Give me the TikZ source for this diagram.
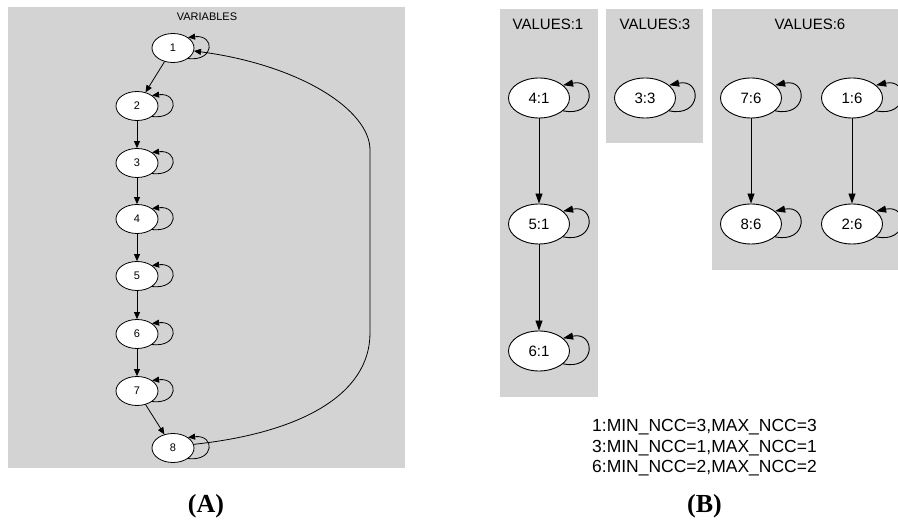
\documentclass[tikz,border=0pt]{standalone}
\usepackage{fontspec}
\setmainfont{Liberation Sans}
\newfontfamily\capfont{Liberation Serif}
\usetikzlibrary{arrows.meta,shapes.geometric}
\definecolor{boxgray}{HTML}{D3D3D3}
\tikzset{
  panel/.style={fill=boxgray,draw=none},
  anode/.style={ellipse,draw=black,fill=white,line width=0.8pt,minimum width=42pt,minimum height=29pt,inner sep=0pt,font=\fontsize{11pt}{13pt}\selectfont},
  bnode/.style={ellipse,draw=black,fill=white,line width=0.9pt,minimum width=61pt,minimum height=40pt,inner sep=0pt,font=\fontsize{15pt}{17pt}\selectfont},
  aedge/.style={draw=black,line width=0.8pt,-{Triangle[length=7pt,width=6pt]}},
  bedge/.style={draw=black,line width=0.9pt,-{Triangle[length=10pt,width=7pt]}},
  atitle/.style={font=\fontsize{11pt}{13pt}\selectfont,inner sep=0pt},
  btitle/.style={font=\fontsize{15pt}{17pt}\selectfont,inner sep=0pt},
  info/.style={font=\fontsize{17.5pt}{20pt}\selectfont,inner sep=0pt,anchor=base},
  caption/.style={font=\capfont\bfseries\fontsize{26pt}{28pt}\selectfont,inner sep=0pt}
}
\newcommand\aselfloop[1]{\draw[aedge] (#1.-35) .. controls +(27,3) and +(27,-3) .. (#1.35);}
\newcommand\bselfloop[1]{\draw[bedge] (#1.-28) .. controls +(33,7) and +(33,-7) .. (#1.28);}
\begin{document}
\begin{tikzpicture}[x=1pt,y=-1pt]
\useasboundingbox (0,0) rectangle (898,521);
\clip (0,0) rectangle (898,521);
% panel A
\fill[panel] (8,7) rectangle (405,468);
\node[atitle] (vt) at (207,17) {VARIABLES};
\node[anode] (a1) at (173,48) {1};
\node[anode] (a2) at (137,106) {2};
\node[anode] (a3) at (137,163) {3};
\node[anode] (a4) at (137,219) {4};
\node[anode] (a5) at (137,276) {5};
\node[anode] (a6) at (137,334) {6};
\node[anode] (a7) at (137,391) {7};
\node[anode] (a8) at (173,448) {8};
\foreach \n in {a1,a2,a3,a4,a5,a6,a7,a8}{\aselfloop{\n}}
\draw[aedge] (a1) -- (a2);
\draw[aedge] (a2) -- (a3);
\draw[aedge] (a3) -- (a4);
\draw[aedge] (a4) -- (a5);
\draw[aedge] (a5) -- (a6);
\draw[aedge] (a6) -- (a7);
\draw[aedge] (a7) -- (a8);
\draw[aedge] (a8.10) .. controls (300,433) and (370,395) .. (370,333) -- (370,150) .. controls (370,110) and (300,65) .. (a1.-8);
% panel B
\fill[panel] (500,9) rectangle (598,397);
\fill[panel] (606,9) rectangle (703,143);
\fill[panel] (712,9) rectangle (910,270);
\node[btitle] (v1) at (548,24) {VALUES:1};
\node[btitle] (v3) at (655,24) {VALUES:3};
\node[btitle] (v6) at (810,24) {VALUES:6};
\node[bnode] (b41) at (539,98) {4:1};
\node[bnode] (b51) at (539,224) {5:1};
\node[bnode] (b61) at (539,351) {6:1};
\node[bnode] (b33) at (645,98) {3:3};
\node[bnode] (b76) at (751,98) {7:6};
\node[bnode] (b16) at (852,98) {1:6};
\node[bnode] (b86) at (751,224) {8:6};
\node[bnode] (b26) at (852,224) {2:6};
\foreach \n in {b41,b51,b61,b33,b76,b16,b86,b26}{\bselfloop{\n}}
\draw[bedge] (b41) -- (b51);
\draw[bedge] (b51) -- (b61);
\draw[bedge] (b76) -- (b86);
\draw[bedge] (b16) -- (b26);
\node[info] (t1) at (704.5,432) {1:MIN\_NCC=3,MAX\_NCC=3};
\node[info] (t2) at (704.5,452.5) {3:MIN\_NCC=1,MAX\_NCC=1};
\node[info] (t3) at (704.5,473) {6:MIN\_NCC=2,MAX\_NCC=2};
% captions
\node[caption] (ca) at (206,506) {(A)};
\node[caption] (cb) at (704.5,506) {(B)};
\end{tikzpicture}
\end{document}
